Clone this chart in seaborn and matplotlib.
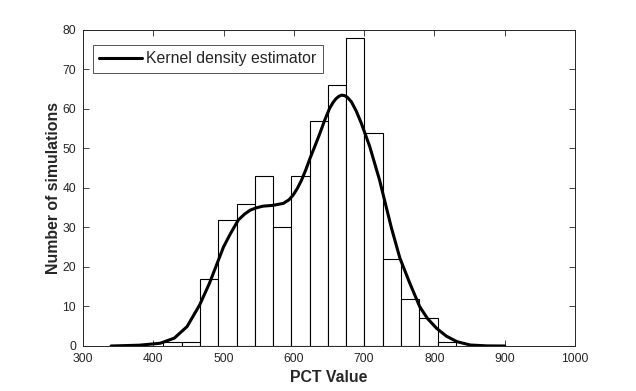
import numpy as np
import pandas as pd
import seaborn as sns
import matplotlib.pyplot as plt

# histogram counts (bin width 26)
bin_centers = [427.5, 453.5, 479.5, 505.5, 531.5, 557.5, 583.5, 609.5,
               635.5, 661.5, 687.5, 713.5, 739.5, 765.5, 791.5, 817.5]
counts = [1, 1, 17, 32, 36, 43, 30, 43, 57, 66, 78, 54, 22, 12, 7, 1]
bin_edges = [414.5, 440.5, 466.5, 492.5, 518.5, 544.5, 570.5, 596.5, 622.5,
             648.5, 674.5, 700.5, 726.5, 752.5, 778.5, 804.5, 830.5]

# kernel density curve (scaled to counts)
kde_x = [340, 380, 410, 430, 448, 466, 480, 490, 500, 510, 521, 530, 538, 547, 556, 570,
         585, 593, 599, 605, 611, 617, 623, 630, 637, 644, 651, 656, 660, 664, 668, 672,
         676, 682, 689, 696, 708, 722, 739, 751, 765, 779, 790, 803, 817, 832, 851, 875, 900]
kde_y = [0, 0.2, 0.7, 2.0, 4.9, 10.4, 15.9, 20.5, 25.1, 28.5, 31.9, 33.4, 34.4, 35.0, 35.4, 35.6,
         36.1, 37.0, 38.2, 39.9, 42.0, 44.6, 47.5, 50.6, 53.8, 57.2, 60.2, 61.7, 62.6, 63.2, 63.5, 63.4,
         63.0, 61.8, 59.4, 56.4, 50.5, 42.0, 29.8, 22.2, 15.9, 10.0, 7.0, 4.5, 2.5, 1.1, 0.25, 0.03, 0]

sns.set_style('white')
plt.rcParams['font.family'] = ['Liberation Sans', 'DejaVu Sans']
axcol = '#262626'

fig = plt.figure(figsize=(6.36, 3.91), dpi=100)
ax = fig.add_axes([0.1305, 0.1151, 0.7735, 0.8082])

hist_df = pd.DataFrame({'pct': bin_centers, 'n': counts})
sns.histplot(data=hist_df, x='pct', weights='n', bins=bin_edges, ax=ax,
             color='white', edgecolor='black', linewidth=0.8, alpha=1)

kde_df = pd.DataFrame({'pct': kde_x, 'dens': kde_y})
sns.lineplot(data=kde_df, x='pct', y='dens', ax=ax, color='black',
             linewidth=2.2, label='Kernel density estimator')

ax.set_xlim(300, 1000)
ax.set_ylim(0, 80)
ax.set_xticks(range(300, 1001, 100))
ax.set_yticks(range(0, 81, 10))
ax.tick_params(direction='in', length=4, width=0.6, colors=axcol,
               labelsize=8.7, top=True, right=True, bottom=True, left=True)
ax.tick_params(axis='x', pad=5)
ax.tick_params(axis='y', pad=5)
for s in ax.spines.values():
    s.set_color(axcol)
    s.set_linewidth(0.7)

ax.set_xlabel('PCT Value', fontsize=11.4, fontweight='bold', color=axcol, labelpad=3.5)
ax.set_ylabel('Number of simulations', fontsize=11.4, fontweight='bold', color=axcol, labelpad=1)

leg = ax.legend(loc='upper left', bbox_to_anchor=(0.0205, 0.952), fontsize=11.4,
                frameon=True, fancybox=False, handlelength=2.7, borderpad=0.4,
                handletextpad=0.25, borderaxespad=0)
leg.get_frame().set_edgecolor(axcol)
leg.get_frame().set_linewidth(0.7)

plt.savefig('out.png', dpi=100)
